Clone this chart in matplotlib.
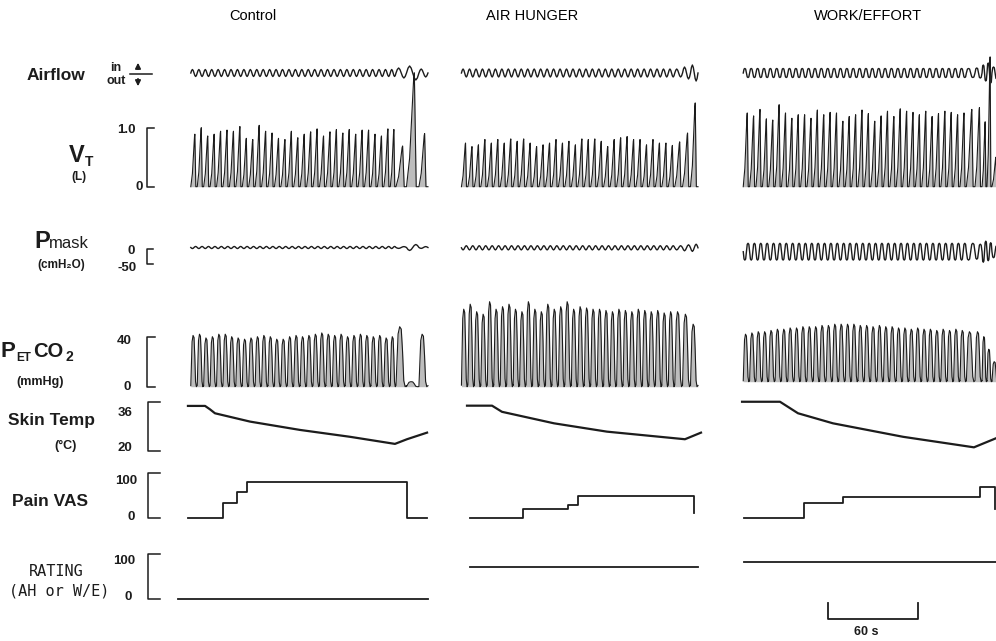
import numpy as np
import matplotlib.pyplot as plt

plt.rcParams['font.family'] = ['Liberation Sans', 'DejaVu Sans']

W, H = 996, 641
INK = '#1c1c1c'
GREY = '#bdbdbd'

columns = ["Control", "AIR HUNGER", "WORK/EFFORT"]

# breath timing (s): first onset, period of the regular breaths, onsets of the irregular ones at the end
ctrl_first, ctrl_period = 3.2, 4.29
ah_first, ah_period = -1.7, 4.31
we_first, we_period = 1.5, 4.25
ctrl_tail = [140.0, 147.0, 155.3]
ah_tail = [145.7, 151.0]
we_tail = [156.0, 160.7, 164.0, 167.3]
ctrl_end, ah_end, we_end = 161.3, 156.0, 171.5

# tidal volume peak of each breath (L)
ctrl_vt = [0.89, 1.0, 0.86, 0.89, 0.94, 0.96, 0.94, 1.02, 0.82, 0.8,
           1.04, 0.94, 0.91, 0.82, 0.8, 0.94, 0.83, 0.89, 0.93, 0.98,
           0.86, 0.93, 0.97, 0.91, 0.97, 0.89, 0.96, 0.96, 0.89, 0.86,
           0.98, 0.97, 0.69, 1.93, 0.9]
ah_vt = [0.74, 0.68, 0.71, 0.8, 0.74, 0.8, 0.74, 0.81, 0.77, 0.81,
         0.74, 0.68, 0.71, 0.74, 0.8, 0.74, 0.77, 0.71, 0.81, 0.8,
         0.81, 0.77, 0.68, 0.8, 0.83, 0.85, 0.8, 0.8, 0.71, 0.8,
         0.74, 0.74, 0.7, 0.76, 0.91, 1.42]
we_vt = [1.25, 1.2, 1.31, 1.15, 1.13, 1.39, 1.25, 1.16, 1.22, 1.22,
         1.16, 1.3, 1.22, 1.26, 1.25, 1.11, 1.19, 1.22, 1.3, 1.24,
         1.11, 1.2, 1.28, 1.19, 1.32, 1.28, 1.26, 1.22, 1.28, 1.19,
         1.24, 1.28, 1.26, 1.22, 1.25, 1.31, 1.34, 1.1, 2.2, 0.5]

# end-tidal CO2 peak of each breath (mmHg) and trough level
ctrl_co2 = [41, 42, 39, 40, 42, 42, 40, 39, 38, 39, 40, 41, 40, 38, 38, 40,
            41, 40, 41, 42, 43, 42, 41, 42, 40, 41, 42, 41, 40, 41, 39, 40,
            48, 4, 42]
ah_co2 = [62, 66, 60, 58, 68, 62, 64, 66, 62, 60, 68, 62, 60, 66, 62, 64,
          68, 62, 64, 63, 62, 62, 61, 60, 62, 61, 60, 62, 61, 60, 61, 59,
          60, 60, 58, 50]
we_co2 = [42, 43, 44, 44, 45, 46, 46, 47, 47, 48, 48, 48, 49, 49, 50, 50,
          50, 50, 49, 49, 48, 49, 48, 48, 47, 47, 46, 47, 46, 46, 45, 46,
          45, 46, 45, 44, 44, 40, 30, 20]
ctrl_co2_floor, ah_co2_floor, we_co2_floor = 0, 0, 4

# airflow ripple amplitude (regular breaths, then irregular ones)
ctrl_flow, ctrl_flow_tail = 3.5, [5, 7, 4]
ah_flow, ah_flow_tail = 4.0, [6, 8]
we_flow, we_flow_tail = 4.5, [5, 8, 10, 6]

# mask pressure: mean and ripple amplitude (cmH2O)
ctrl_pm, ctrl_pm_amp, ctrl_pm_tail = 5, 3.5, [3, 10, 3]
ah_pm, ah_pm_amp, ah_pm_tail = 4, 7, [10, 12]
we_pm, we_pm_amp, we_pm_tail = -9, 28, [25, 35, 30, 20]

# skin temperature (s, degC)
ctrl_skin_t = [1.3, 12.7, 16.0, 19.3, 42.7, 76, 109.3, 139.3, 147.3, 160.7]
ctrl_skin = [38.4, 38.4, 37.0, 35.4, 32.0, 28.6, 25.8, 22.9, 24.8, 27.5]
ah_skin_t = [2, 18.7, 25.3, 60, 95.3, 147.3, 158]
ah_skin = [38.5, 38.5, 36.0, 31.3, 27.9, 24.8, 27.5]
we_skin_t = [0.7, 26, 38, 61.3, 108, 155.3, 170]
we_skin = [40.1, 40.1, 35.4, 31.3, 25.8, 21.5, 25.2]

# pain VAS steps (s, 0-100)
ctrl_pain_t = [1.3, 24.7, 34, 40.7, 147.3, 160.7]
ctrl_pain = [0, 33, 58, 79, 0, 0]
ah_pain_t = [4, 39.3, 69.3, 76, 153.3]
ah_pain = [0, 19, 28, 49, 12]
we_pain_t = [2, 42, 68, 159.3, 169.3]
we_pain = [0, 34, 47, 69, 21]

# air hunger / work-effort rating (s, 0-100)
ctrl_rate_t, ctrl_rate = [-5.3, 161.3], [0, 0]
ah_rate_t, ah_rate = [4, 156], [72, 72]
we_rate_t, we_rate = [2, 171.5], [83, 83]

scale_bar_start, scale_bar_len = 58, 60

# shapes of one breath (fraction of breath, fraction of peak)
VT_F = [0, 0.25, 0.58, 0.63, 0.78, 1.0]
VT_S = [0, 0.25, 0.96, 1.0, 0, 0]
CO2_F = [0, 0.08, 0.2, 0.35, 0.5, 0.62, 0.74, 0.87, 1.0]
CO2_S = [0.02, 0.35, 0.88, 1.0, 0.96, 0.6, 0.1, 0.0, 0.02]
WAVE_F = [0, .125, .25, .375, .5, .625, .75, .875, 1.0]
WAVE_S = [0, .7, 1, .7, 0, -.7, -1, -.7, 0]


def onsets(first, period, n, tail):
    return [first + i * period for i in range(n)] + list(tail)


def breaths(starts, end, peaks, frac, shape, base=0.0):
    bounds = list(starts) + [end]
    t, v = [], []
    for i, p in enumerate(peaks):
        a, b = bounds[i], bounds[i + 1]
        t.extend(a + f * (b - a) for f in frac)
        v.extend(base + p * s for s in shape)
    return np.array(t), np.array(v)


# rows: two reference points (pixel, value) and the pixel span of the row
ROWS = {
    'flow': (73, 0, 63, 10, 45, 100),
    'vt': (186.7, 0, 127.7, 1.0, 45, 195),
    'pm': (249, 0, 264, -50, 225, 275),
    'co2': (386.7, 0, 336.7, 40, 290, 395),
    'skin': (451, 20, 402, 40, 395, 460),
    'pain': (518, 0, 473, 100, 465, 530),
    'rate': (599, 0, 554, 100, 545, 612),
}
COL_LEFT = [186, 464, 741]
PX_PER_S = 1.5


def ylims(key):
    pa, va, pb, vb, top, bot = ROWS[key]
    k = (vb - va) / (pb - pa)
    return va + (bot - pa) * k, va + (top - pa) * k


def row_axes(x0, x1, key):
    top, bot = ROWS[key][4], ROWS[key][5]
    ax = fig.add_axes([x0 / W, 1 - bot / H, (x1 - x0) / W, (bot - top) / H])
    ax.set_ylim(*ylims(key))
    ax.axis('off')
    return ax


fig = plt.figure(figsize=(W / 100, H / 100), dpi=100)

cols = [
    dict(first=ctrl_first, period=ctrl_period, tail=ctrl_tail, end=ctrl_end,
         vt=ctrl_vt, co2=ctrl_co2, floor=ctrl_co2_floor, flow=ctrl_flow, flow_tail=ctrl_flow_tail,
         pm=ctrl_pm, pm_amp=ctrl_pm_amp, pm_tail=ctrl_pm_tail,
         skin_t=ctrl_skin_t, skin=ctrl_skin, pain_t=ctrl_pain_t, pain=ctrl_pain,
         rate_t=ctrl_rate_t, rate=ctrl_rate, square=False),
    dict(first=ah_first, period=ah_period, tail=ah_tail, end=ah_end,
         vt=ah_vt, co2=ah_co2, floor=ah_co2_floor, flow=ah_flow, flow_tail=ah_flow_tail,
         pm=ah_pm, pm_amp=ah_pm_amp, pm_tail=ah_pm_tail,
         skin_t=ah_skin_t, skin=ah_skin, pain_t=ah_pain_t, pain=ah_pain,
         rate_t=ah_rate_t, rate=ah_rate, square=False),
    dict(first=we_first, period=we_period, tail=we_tail, end=we_end,
         vt=we_vt, co2=we_co2, floor=we_co2_floor, flow=we_flow, flow_tail=we_flow_tail,
         pm=we_pm, pm_amp=we_pm_amp, pm_tail=we_pm_tail,
         skin_t=we_skin_t, skin=we_skin, pain_t=we_pain_t, pain=we_pain,
         rate_t=we_rate_t, rate=we_rate, square=True),
]

for L, c in zip(COL_LEFT, cols):
    x0, x1 = L - 12, L + 262
    tlim = (-12 / PX_PER_S, 262 / PX_PER_S)
    n_reg = len(c['vt']) - len(c['tail'])
    st = onsets(c['first'], c['period'], n_reg, c['tail'])
    wave = [s * 1.25 if c['square'] else s for s in WAVE_S]
    wave = [max(-1, min(1, s)) for s in wave]

    ax = row_axes(x0, x1, 'flow')
    ax.set_xlim(*tlim)
    amps = [c['flow']] * n_reg + c['flow_tail']
    t, v = breaths(st, c['end'], amps, WAVE_F, wave)
    ax.plot(t, v, color=INK, lw=1.0)

    ax = row_axes(x0, x1, 'vt')
    ax.set_xlim(*tlim)
    t, v = breaths(st, c['end'], c['vt'], VT_F, VT_S)
    ax.fill_between(t, 0, v, color=GREY, lw=0)
    ax.plot(t, v, color=INK, lw=0.8)

    ax = row_axes(x0, x1, 'pm')
    ax.set_xlim(*tlim)
    amps = [c['pm_amp']] * n_reg + c['pm_tail']
    t, v = breaths(st, c['end'], amps, WAVE_F, [-s for s in wave], base=c['pm'])
    ax.plot(t, v, color=INK, lw=1.0)

    ax = row_axes(x0, x1, 'co2')
    ax.set_xlim(*tlim)
    rise = [p - c['floor'] for p in c['co2']]
    t, v = breaths(st, c['end'], rise, CO2_F, CO2_S, base=c['floor'])
    ax.fill_between(t, c['floor'], v, color=GREY, lw=0)
    ax.plot(t, v, color=INK, lw=0.8)

    ax = row_axes(x0, x1, 'skin')
    ax.set_xlim(*tlim)
    ax.plot(c['skin_t'], c['skin'], color=INK, lw=1.6)

    ax = row_axes(x0, x1, 'pain')
    ax.set_xlim(*tlim)
    ax.plot(c['pain_t'], c['pain'], color=INK, lw=1.3, drawstyle='steps-post')

    ax = row_axes(x0, x1, 'rate')
    ax.set_xlim(*tlim)
    ax.plot(c['rate_t'], c['rate'], color=INK, lw=1.3)

# 60 s scale bar under the last column
ax = fig.add_axes([(COL_LEFT[2] - 12) / W, 0, 274 / W, 46 / H])
ax.set_xlim(-12 / PX_PER_S, 262 / PX_PER_S)
ax.set_ylim(0, 46)
ax.axis('off')
a, b = scale_bar_start, scale_bar_start + scale_bar_len
ax.plot([a, a, b, b], [38, 22, 22, 38], color=INK, lw=1.3)

# scale brackets
brackets = [('vt', 0, 1.0, 7), ('pm', 0, -50, 6), ('co2', 0, 40, 8),
            ('skin', 20, 40, 13), ('pain', 0, 100, 13), ('rate', 0, 100, 13)]
for key, lo, hi, tick in brackets:
    ax = row_axes(147, 147 + tick, key)
    ax.set_xlim(-0.05, 1)
    ax.plot([1, 0, 0, 1], [hi, hi, lo, lo], color=INK, lw=1.1, clip_on=False)

# labels in pixel coordinates
lab = fig.add_axes([0, 0, 1, 1])
lab.set_xlim(0, W)
lab.set_ylim(H, 0)
lab.axis('off')

for x, name in zip([253, 532, 868], columns):
    lab.text(x, 16, name, ha='center', va='center', fontsize=10.5)

bold = dict(fontweight='bold', color=INK)
lab.text(27, 75, "Airflow", ha='left', va='center', fontsize=12.5, **bold)
lab.text(116, 68, "in", ha='center', va='center', fontsize=9, **bold)
lab.text(116, 81, "out", ha='center', va='center', fontsize=9, **bold)
lab.plot([130, 152], [74, 74], color=INK, lw=1.1)
lab.annotate('', xy=(138, 60), xytext=(138, 72),
             arrowprops=dict(arrowstyle='-|>', color=INK, lw=1.2, mutation_scale=8))
lab.annotate('', xy=(138, 89), xytext=(138, 76),
             arrowprops=dict(arrowstyle='-|>', color=INK, lw=1.2, mutation_scale=8))

lab.text(69, 162, "V", ha='left', va='baseline', fontsize=17, **bold)
lab.text(85, 166, "T", ha='left', va='baseline', fontsize=10, **bold)
lab.text(79, 177, "(L)", ha='center', va='center', fontsize=8.5, **bold)

lab.text(34, 248, "P", ha='left', va='baseline', fontsize=17, **bold)
lab.text(49, 248, "mask", ha='left', va='baseline', fontsize=12, color=INK)
lab.text(61, 265, "(cmH₂O)", ha='center', va='center', fontsize=8.5, **bold)

lab.text(1, 357, "P", ha='left', va='baseline', fontsize=16, **bold)
lab.text(16, 361, "ET", ha='left', va='baseline', fontsize=8.5, **bold)
lab.text(33, 357, "CO", ha='left', va='baseline', fontsize=14.5, **bold)
lab.text(65, 361, "2", ha='left', va='baseline', fontsize=10, **bold)
lab.text(40, 382, "(mmHg)", ha='center', va='center', fontsize=9, **bold)

lab.text(8, 420, "Skin Temp", ha='left', va='center', fontsize=12.5, **bold)
lab.text(66, 446, "(°C)", ha='center', va='center', fontsize=9, **bold)
lab.text(12, 502, "Pain VAS", ha='left', va='center', fontsize=12.5, **bold)
lab.text(56, 572, "RATING", ha='center', va='center', fontsize=11,
         family='DejaVu Sans Mono', color=INK)
lab.text(59, 591, "(AH or W/E)", ha='center', va='center', fontsize=11,
         family='DejaVu Sans Mono', color=INK)

ticks = [(136, 130, "1.0"), (143, 187, "0"), (135, 251, "0"), (137, 268, "-50"),
         (132, 341, "40"), (131, 387, "0"), (133, 413, "36"), (132, 448, "20"),
         (137, 481, "100"), (135, 517, "0"), (135, 561, "100"), (132, 597, "0")]
for x, y, s in ticks:
    lab.text(x, y, s, ha='right', va='center', fontsize=9.5, **bold)

lab.text(866, 632, "60 s", ha='center', va='center', fontsize=9, **bold)

fig.savefig("out.png", dpi=100)
